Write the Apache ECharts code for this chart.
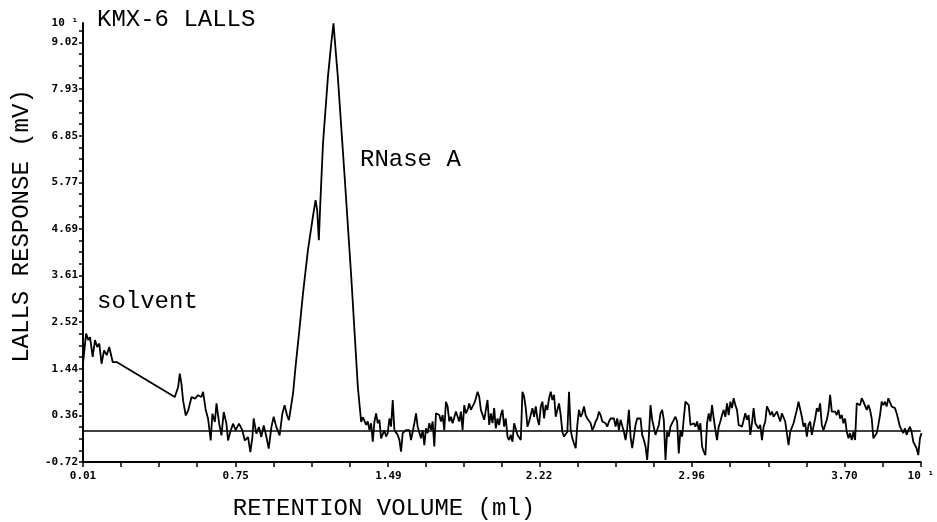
<!DOCTYPE html>
<html>
<head>
<meta charset="utf-8">
<title>KMX-6 LALLS</title>
<script src="https://cdn.jsdelivr.net/npm/echarts@6.0.0/dist/echarts.min.js"></script>
<style>
  html, body { margin: 0; padding: 0; background: #fff; }
  #chart { width: 937px; height: 522px; }
</style>
</head>
<body>
<div id="chart"></div>
<script>
// axis ranges (both axes are x10^1 on the original plot)
const xMin = 0.01, xMax = 4.07;
const yMin = -0.72, yMax = 9.47;
const xLabelValues = [0.01, 0.75, 1.49, 2.22, 2.96, 3.70];
const yLabelValues = [-0.72, 0.36, 1.44, 2.52, 3.61, 4.69, 5.77, 6.85, 7.93, 9.02];
const scaleMark = '10 ¹';

// solvent front + RNase A peak, read point by point
const headVolume = [0.010, 0.025, 0.036, 0.044, 0.057, 0.068, 0.079, 0.089, 0.100, 0.112,
  0.125, 0.137, 0.145, 0.154, 0.173, 0.455, 0.471, 0.479, 0.487, 0.495,
  0.508, 0.520, 0.536, 0.552, 0.568, 0.584, 0.592, 0.605, 0.616, 0.629,
  0.637, 0.649, 0.657, 0.670, 0.681, 0.692, 0.705, 0.713, 0.724, 0.737,
  0.750, 0.766, 0.782, 0.794, 0.810, 0.821, 0.831, 0.837, 0.850, 0.863,
  0.874, 0.886, 0.899, 0.910, 0.923, 0.934, 0.947, 0.963, 0.976, 0.987,
  0.999, 1.008, 1.028, 1.040, 1.060, 1.076, 1.100, 1.124, 1.137, 1.145,
  1.153, 1.160, 1.173, 1.197, 1.213, 1.224, 1.229, 1.245, 1.278, 1.310,
  1.342, 1.358, 1.366];
const headResponse = [1.56, 2.26, 2.11, 2.18, 1.72, 2.11, 1.95, 2.03, 1.56, 1.87,
  1.76, 1.95, 1.97, 1.60, 1.60, 0.79, 1.02, 1.33, 1.10, 0.71,
  0.36, 0.48, 0.79, 0.75, 0.83, 0.79, 0.91, 0.48, 0.29, -0.22,
  0.40, 0.21, 0.64, 0.17, -0.10, 0.44, 0.17, -0.22, -0.02, 0.17,
  0.02, 0.17, 0.02, -0.22, -0.14, -0.49, -0.14, 0.29, -0.06, 0.09,
  -0.14, 0.13, -0.14, -0.41, 0.09, 0.33, 0.09, -0.10, 0.40, 0.60,
  0.36, 0.25, 0.87, 1.49, 2.41, 3.19, 4.20, 4.97, 5.36, 5.12,
  4.43, 5.28, 6.67, 8.22, 8.99, 9.46, 9.15, 8.22, 5.90, 3.58,
  1.02, 0.21, 0.32];

// baseline noise after the peak, one reading per detector sample
const noiseStart = 1.374;
const noiseStep = 0.00806;
const noiseResponse = [
  0.29, 0.14, 0.22, 0.02, 0.18, -0.25, 0.22, 0.41, 0.18, 0.26,
  -0.17, -0.17, 0.02, -0.13, -0.05, 0.29, 0.10, 0.72, 0.02, -0.02,
  -0.09, -0.21, -0.48, -0.05, -0.02, 0.02, -0.02, 0.02, -0.21, -0.02,
  0.18, 0.41, 0.10, 0.06, -0.17, 0.02, -0.33, 0.06, -0.05, 0.18,
  0.02, 0.22, -0.36, 0.41, 0.45, 0.37, 0.22, 0.37, 0.02, 0.68,
  0.57, 0.22, 0.33, 0.18, 0.22, 0.45, 0.41, 0.22, 0.45, 0.02,
  0.60, 0.41, 0.49, 0.64, 0.49, 0.57, 0.64, 0.76, 0.91, 0.80,
  0.49, 0.53, 0.26, 0.22, 0.72, 0.14, 0.41, 0.18, 0.53, 0.06,
  0.29, 0.14, 0.37, 0.49, 0.10, 0.29, -0.13, -0.21, -0.09, -0.25,
  0.18, 0.22, -0.09, -0.13, -0.21, 0.91, 0.80, 0.53, 0.10, 0.22,
  0.18, 0.53, 0.33, 0.57, 0.29, 0.14, 0.57, 0.68, 0.29, 0.60,
  0.49, 0.76, 0.91, 0.72, 0.84, 0.33, 0.49, 0.64, 0.37, -0.02,
  -0.13, -0.17, -0.02, 0.91, 0.02, -0.17, -0.29, -0.40, 0.14, 0.49,
  0.33, 0.41, 0.57, 0.37, 0.29, 0.33, 0.18, 0.02, 0.10, 0.22,
  0.29, 0.45, 0.37, 0.22, 0.26, 0.18, 0.10, 0.22, 0.29, 0.33,
  0.29, 0.10, 0.29, 0.02, 0.26, 0.29, -0.02, -0.21, 0.06, 0.49,
  -0.13, -0.40, -0.13, 0.14, 0.29,
  0.33, 0.29, -0.09, -0.21, -0.36, -0.67, -0.13, 0.60, 0.26, 0.22,
  -0.09, -0.09, 0.14, 0.41, 0.49, 0.26, -0.67, -0.02, -0.13, 0.10,
  0.18, 0.26, 0.33, 0.22, -0.52, 0.02, -0.13, 0.29, 0.68, 0.68,
  0.60, 0.14, 0.14, 0.18, 0.10, 0.22, 0.02, 0.18, -0.36, -0.48,
  -0.56, 0.18, 0.41, 0.22, 0.60, 0.29, 0.02, -0.21, 0.10, 0.22,
  0.37, 0.49, 0.33, 0.64, 0.37, 0.68, 0.53, 0.76, 0.60, 0.49,
  0.14, 0.18, 0.10, 0.06, 0.41, 0.26, 0.37, -0.09, 0.18, 0.53,
  0.18, 0.22, 0.06, 0.14, -0.21, 0.10, 0.22, 0.57, 0.49, 0.37,
  0.45, 0.33, 0.37, 0.45, 0.33, 0.22, 0.41, 0.37, 0.22, 0.18,
  -0.33, -0.02, 0.02, 0.18, 0.14, 0.49, 0.68, 0.64, 0.33, 0.10,
  0.18, -0.13, 0.14, 0.22, -0.09, 0.10, 0.29, 0.53, 0.45, 0.64,
  0.14, 0.02, 0.14, 0.26, 0.45, 0.84, 0.45, 0.49, 0.45, 0.37,
  0.49, 0.29, 0.37, 0.18, 0.29, -0.02, -0.17, -0.05, -0.21, -0.02,
  -0.21, 0.64, 0.68, 0.60, 0.76, 0.68, 0.64, 0.49, 0.60, 0.49,
  0.29, -0.17, -0.17, -0.05, 0.14, 0.37, 0.68, 0.60, 0.68, 0.57,
  0.76, 0.72, 0.57, 0.60, 0.53, 0.41, 0.41, 0.10, 0.14, -0.05,
  0.06, -0.09, 0.02, 0.10, -0.02, -0.25, -0.25, -0.40, -0.56, -0.17,
  -0.05
];

const trace = headVolume.map((v, i) => [v, headResponse[i]]);
noiseResponse.forEach((r, i) => {
  trace.push([+(noiseStart + i * noiseStep).toFixed(4), r]);
});

// small ticks: four per labelled step
const makeTicks = (labels, max) => {
  const step = (labels[labels.length - 1] - labels[0]) / ((labels.length - 1) * 4);
  const out = [];
  for (let v = labels[0]; v <= max + 1e-6; v += step) out.push(+v.toFixed(4));
  return out;
};

const typeFont = "'Courier New', 'Liberation Mono', monospace";
const tickLabel = {
  color: '#000',
  fontFamily: 'DejaVu Sans Mono',
  fontWeight: 'bold',
  fontSize: 11
};

const chart = echarts.init(document.getElementById('chart'));

const option = {
  animation: false,
  backgroundColor: '#fff',
  grid: { left: 83, right: 14, top: 23, bottom: 60 },
  xAxis: {
    type: 'value',
    min: xMin,
    max: xMax,
    axisLine: { onZero: false, lineStyle: { color: '#000', width: 2 } },
    axisTick: { show: true, customValues: makeTicks(xLabelValues, xMax), length: 5, lineStyle: { color: '#000', width: 1.5 } },
    axisLabel: Object.assign({
      customValues: xLabelValues.concat([xMax]),
      margin: 9,
      formatter: v => Math.abs(v - xMax) < 1e-6 ? scaleMark : v.toFixed(2)
    }, tickLabel),
    splitLine: { show: false }
  },
  yAxis: {
    type: 'value',
    min: yMin,
    max: yMax,
    axisLine: { show: true, onZero: false, lineStyle: { color: '#000', width: 2 } },
    axisTick: { show: true, customValues: makeTicks(yLabelValues, yMax), length: 4, lineStyle: { color: '#000', width: 1.5 } },
    axisLabel: Object.assign({
      customValues: yLabelValues.concat([yMax]),
      margin: 5,
      formatter: v => Math.abs(v - yMax) < 1e-6 ? scaleMark : v.toFixed(2)
    }, tickLabel),
    splitLine: { show: false }
  },
  series: [{
    type: 'line',
    data: trace,
    showSymbol: false,
    symbol: 'none',
    lineStyle: { color: '#000', width: 1.8 },
    silent: true,
    markLine: {
      silent: true,
      symbol: 'none',
      label: { show: false },
      lineStyle: { color: '#000', width: 1.6, type: 'solid' },
      data: [{ yAxis: 0 }]
    }
  }],
  graphic: [
    { type: 'text', x: 97, y: 20, style: { text: 'KMX-6 LALLS', font: '24px ' + typeFont, fill: '#000', textVerticalAlign: 'middle' } },
    { type: 'text', x: 360, y: 160, style: { text: 'RNase A', font: '24px ' + typeFont, fill: '#000', textVerticalAlign: 'middle' } },
    { type: 'text', x: 97, y: 302, style: { text: 'solvent', font: '24px ' + typeFont, fill: '#000', textVerticalAlign: 'middle' } },
    { type: 'text', x: 384, y: 509, style: { text: 'RETENTION VOLUME (ml)', font: '24px ' + typeFont, fill: '#000', textAlign: 'center', textVerticalAlign: 'middle' } },
    { type: 'text', x: 22, y: 226, rotation: Math.PI / 2, style: { text: 'LALLS RESPONSE (mV)', font: '24px ' + typeFont, fill: '#000', textAlign: 'center', textVerticalAlign: 'middle' } }
  ]
};

chart.setOption(option);
</script>
</body>
</html>
